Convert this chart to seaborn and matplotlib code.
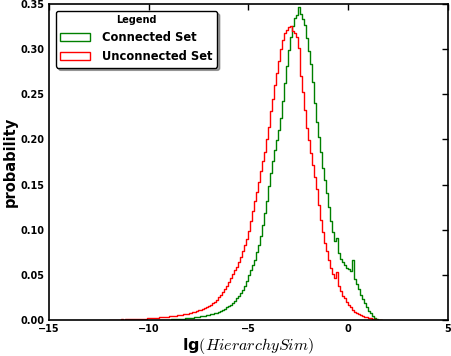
import numpy as np
import pandas as pd
import matplotlib
matplotlib.use("Agg")
import matplotlib.pyplot as plt
from matplotlib.patches import Patch
import seaborn as sns

# histogram bins: width 0.1, first bin starts at BIN_START
BIN_START = -12.0
BIN_WIDTH = 0.1

# probability per bin, one row per unit of lg(HierarchySim), from -12 upwards
connected = [
    0, 0, 0, 0, 0, 0, 0, 0, 0, 0,
    0, 0, 0, 0, 0, 0, 0, 0, 0, 0,
    0, 0, 0, 0, 0, 0.0002, 0.0003, 0.0003, 0.0004, 0.0005,
    0.0006, 0.0007, 0.0008, 0.0009, 0.0011, 0.0013, 0.0014, 0.0016, 0.0018, 0.0020,
    0.0022, 0.0025, 0.0027, 0.0030, 0.0033, 0.0037, 0.0040, 0.0044, 0.0048, 0.0053,
    0.0057, 0.0062, 0.0068, 0.0075, 0.0083, 0.0091, 0.0100, 0.0112, 0.0125, 0.0139,
    0.0155, 0.0172, 0.0192, 0.0215, 0.0240, 0.0268, 0.0300, 0.0338, 0.0380, 0.0430,
    0.050, 0.055, 0.061, 0.067, 0.075, 0.083, 0.093, 0.105, 0.118, 0.132,
    0.148, 0.163, 0.176, 0.188, 0.199, 0.210, 0.224, 0.243, 0.262, 0.281,
    0.299, 0.313, 0.326, 0.334, 0.338, 0.347, 0.339, 0.333, 0.327, 0.312,
    0.298, 0.283, 0.264, 0.240, 0.219, 0.203, 0.186, 0.168, 0.155, 0.141,
    0.125, 0.110, 0.097, 0.088, 0.091, 0.074, 0.068, 0.064, 0.061, 0.058,
    0.056, 0.054, 0.067, 0.045, 0.040, 0.034, 0.028, 0.023, 0.0185, 0.014,
    0.010, 0.0075, 0.005, 0.0025, 0.0012, 0.0004, 0,
]
unconnected = [
    0.0003, 0.0004, 0.0004, 0.0005, 0.0006, 0.0005, 0.0007, 0.0006, 0.0008, 0.0009,
    0.0010, 0.0011, 0.0012, 0.0013, 0.0012, 0.0015, 0.0016, 0.0017, 0.0016, 0.0019,
    0.0021, 0.0022, 0.0024, 0.0023, 0.0027, 0.0029, 0.0030, 0.0033, 0.0035, 0.0038,
    0.0040, 0.0043, 0.0046, 0.0049, 0.0052, 0.0056, 0.0060, 0.0063, 0.0068, 0.0072,
    0.0077, 0.0082, 0.0088, 0.0094, 0.0100, 0.0107, 0.0115, 0.0124, 0.0134, 0.0146,
    0.0160, 0.0172, 0.0188, 0.0205, 0.0225, 0.0250, 0.0280, 0.0310, 0.0345, 0.0380,
    0.042, 0.047, 0.051, 0.055, 0.059, 0.064, 0.070, 0.076, 0.083, 0.090,
    0.099, 0.110, 0.121, 0.132, 0.142, 0.153, 0.165, 0.176, 0.186, 0.200,
    0.214, 0.231, 0.245, 0.260, 0.273, 0.287, 0.300, 0.310, 0.318, 0.321,
    0.324, 0.326, 0.320, 0.318, 0.313, 0.301, 0.270, 0.252, 0.233, 0.213,
    0.199, 0.185, 0.172, 0.158, 0.145, 0.127, 0.111, 0.097, 0.085, 0.076,
    0.066, 0.058, 0.051, 0.046, 0.053, 0.038, 0.032, 0.027, 0.024, 0.020,
    0.017, 0.014, 0.011, 0.0092, 0.0075, 0.0062, 0.0052, 0.0044, 0.0036, 0.0030,
    0.0024, 0.0019, 0.0014, 0.0009, 0.0004, 0, 0,
]
series_labels = ["Connected Set", "Unconnected Set"]
series_colors = ["green", "red"]

x_ticks = [-15, -10, -5, 0, 5]
y_ticks = [0.00, 0.05, 0.10, 0.15, 0.20, 0.25, 0.30, 0.35]

sns.set_style("white", {
    "text.color": "black", "axes.labelcolor": "black",
    "xtick.color": "black", "ytick.color": "black",
    "axes.edgecolor": "black",
})
plt.rcParams["font.family"] = ["DejaVu Sans"]
plt.rcParams["mathtext.fontset"] = "cm"


def draw_hist(ax, values, color):
    values = np.asarray(values, dtype=float)
    # skip the empty leading bins so the line does not run along the axis
    first = int(np.argmax(values > 0))
    lo = BIN_START + BIN_WIDTH * first
    hi = BIN_START + BIN_WIDTH * len(values)
    centers = lo + BIN_WIDTH * (np.arange(len(values) - first) + 0.5)
    df = pd.DataFrame({"x": centers, "p": values[first:]})
    sns.histplot(
        data=df, x="x", weights="p", binwidth=BIN_WIDTH, binrange=(lo, hi),
        element="step", fill=False, color=color, linewidth=1.0, ax=ax,
    )


fig = plt.figure(figsize=(4.52, 3.56), dpi=100)
ax = fig.add_axes([0.108, 0.101, 0.883, 0.888])

draw_hist(ax, connected, series_colors[0])
draw_hist(ax, unconnected, series_colors[1])

ax.set_xlim(-15, 5)
ax.set_ylim(0, 0.35)
ax.set_xticks(x_ticks)
ax.set_yticks(y_ticks)
ax.set_xticklabels([f"{t:d}".replace("-", "\u2212") for t in x_ticks],
                   fontsize=7, fontweight="bold")
ax.set_yticklabels([f"{t:.2f}" for t in y_ticks], fontsize=7, fontweight="bold")
ax.tick_params(direction="in", length=4, width=1, top=True, right=True, pad=3,
               colors="black")
for s in ax.spines.values():
    s.set_linewidth(1.2)
    s.set_color("black")

ax.set_xlabel("lg$(HierarchySim)$", fontsize=11.5, fontweight="bold", labelpad=1)
ax.set_ylabel("probability", fontsize=10.5, fontweight="bold", labelpad=2)

handles = [Patch(facecolor="none", edgecolor=c, linewidth=1.0) for c in series_colors]
leg = ax.legend(handles, series_labels, title="Legend", loc="upper left",
                fancybox=True, shadow=True, framealpha=1,
                prop={"size": 8.3, "weight": "bold"},
                title_fontproperties={"size": 7, "weight": "bold"},
                borderaxespad=0.6, handlelength=2.6, handletextpad=1.0)
leg.get_frame().set_edgecolor("black")

fig.savefig("out.png", dpi=100)
